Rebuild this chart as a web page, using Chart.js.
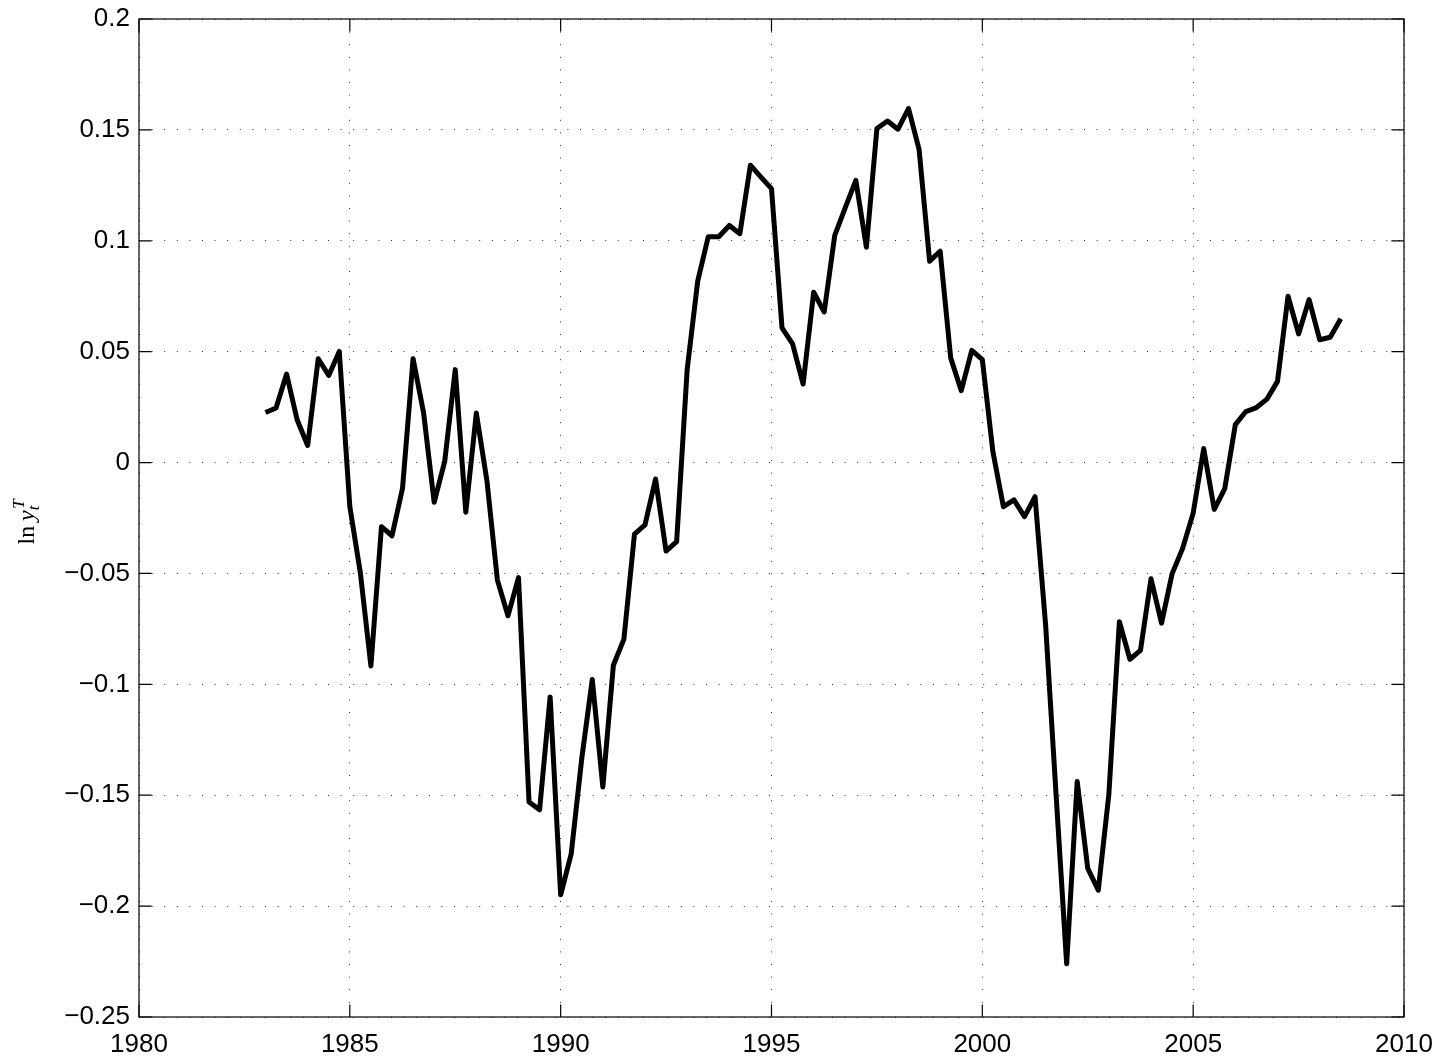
<!DOCTYPE html>
<html>
<head>
<meta charset="utf-8">
<script src="https://cdn.jsdelivr.net/npm/chart.js@4.4.1/dist/chart.umd.min.js"></script>
<style>
html,body{margin:0;padding:0;background:#fff;}
#wrap{width:1440px;height:1058px;}
</style>
</head>
<body>
<div id="wrap"><canvas id="c" width="1440" height="1058"></canvas></div>
<script>
// ---- data ----
const dates = [
1983.00,1983.25,1983.50,1983.75,1984.00,1984.25,1984.50,1984.75,
1985.00,1985.25,1985.50,1985.75,1986.00,1986.25,1986.50,1986.75,
1987.00,1987.25,1987.50,1987.75,1988.00,1988.25,1988.50,1988.75,
1989.00,1989.25,1989.50,1989.75,1990.00,1990.25,1990.50,1990.75,
1991.00,1991.25,1991.50,1991.75,1992.00,1992.25,1992.50,1992.75,
1993.00,1993.25,1993.50,1993.75,1994.00,1994.25,1994.50,1994.75,
1995.00,1995.25,1995.50,1995.75,1996.00,1996.25,1996.50,1996.75,
1997.00,1997.25,1997.50,1997.75,1998.00,1998.25,1998.50,1998.75,
1999.00,1999.25,1999.50,1999.75,2000.00,2000.25,2000.50,2000.75,
2001.00,2001.25,2001.50,2001.75,2002.00,2002.25,2002.50,2002.75,
2003.00,2003.25,2003.50,2003.75,2004.00,2004.25,2004.50,2004.75,
2005.00,2005.25,2005.50,2005.75,2006.00,2006.25,2006.50,2006.75,
2007.00,2007.25,2007.50,2007.75,2008.00,2008.25,2008.50
];
const lnYT = [
0.0226,0.0246,0.0399,0.0193,0.0077,0.0468,0.0393,0.0501,
-0.0199,-0.0498,-0.0917,-0.0289,-0.0330,-0.0116,0.0468,0.0223,
-0.0179,0.0005,0.0419,-0.0224,0.0223,-0.0080,-0.0530,-0.0691,
-0.0519,-0.1531,-0.1566,-0.1057,-0.1949,-0.1764,-0.1335,-0.0978,
-0.1463,-0.0914,-0.0796,-0.0323,-0.0281,-0.0074,-0.0399,-0.0357,
0.0419,0.0818,0.1018,0.1018,0.1069,0.1032,0.1341,0.1287,
0.1235,0.0607,0.0535,0.0354,0.0768,0.0679,0.1024,0.1149,
0.1272,0.0971,0.1506,0.1540,0.1503,0.1596,0.1412,0.0908,
0.0953,0.0472,0.0324,0.0506,0.0464,0.0050,-0.0199,-0.0168,
-0.0244,-0.0154,-0.0730,-0.1500,-0.2260,-0.1438,-0.1830,-0.1928,
-0.1497,-0.0718,-0.0887,-0.0847,-0.0524,-0.0724,-0.0502,-0.0387,
-0.0228,0.0063,-0.0211,-0.0117,0.0171,0.0230,0.0248,0.0286,
0.0366,0.0750,0.0580,0.0735,0.0554,0.0565,0.0648
];
const xTicks = [1980,1985,1990,1995,2000,2005,2010];
const yTicks = [-0.25,-0.2,-0.15,-0.1,-0.05,0,0.05,0.1,0.15,0.2];

// ---- chart ----
const points = dates.map((d,i)=>({x:d, y:lnYT[i]}));
const FONT = {family:'"Liberation Sans", Arial, Helvetica, sans-serif', size:26};
const GRID = {color:'rgba(0,0,0,0.8)', lineWidth:1, drawTicks:false};
const BORDER = {display:false, dash:[1,11.6]};

function fmtY(v){
  const r = Math.round(v*100)/100;
  if (r === 0) return '0';
  return String(r).replace('-', '\u2212');
}

const boxPlugin = {
  id:'box',
  afterDraw(chart){
    const {ctx, chartArea:a, scales} = chart;
    const tl = 12.6;
    ctx.save();
    ctx.strokeStyle = '#000';
    ctx.lineWidth = 1.2;
    ctx.setLineDash([]);
    ctx.beginPath();
    xTicks.forEach(v=>{
      const px = scales.x.getPixelForValue(v);
      ctx.moveTo(px, a.bottom); ctx.lineTo(px, a.bottom - tl);
      ctx.moveTo(px, a.top); ctx.lineTo(px, a.top + tl);
    });
    yTicks.forEach(v=>{
      const py = scales.y.getPixelForValue(v);
      ctx.moveTo(a.left, py); ctx.lineTo(a.left + tl, py);
      ctx.moveTo(a.right, py); ctx.lineTo(a.right - tl, py);
    });
    ctx.stroke();
    ctx.strokeRect(a.left, a.top, a.right - a.left, a.bottom - a.top);
    // y axis title: ln y_t^T
    const cy = (a.top + a.bottom) / 2 + 7;
    ctx.translate(34, cy);
    ctx.rotate(-Math.PI/2);
    ctx.fillStyle = '#000';
    ctx.textBaseline = 'alphabetic';
    const serif = '"Liberation Serif", "DejaVu Serif", serif';
    const parts = [
      {t:'ln', f:'24px '+serif, dy:0},
      {t:'\u2009', f:'24px '+serif, dy:0},
      {t:'y', f:'italic 24px '+serif, dy:0},
      {t:'T', f:'italic 17px '+serif, dy:-10, stack:true},
      {t:'t', f:'italic 17px '+serif, dy:5}
    ];
    let total = 0;
    const widths = parts.map(p=>{ ctx.font = p.f; return ctx.measureText(p.t).width; });
    parts.forEach((p,i)=>{ if(!p.stack) total += widths[i]; });
    let x = -total/2;
    parts.forEach((p,i)=>{
      ctx.font = p.f;
      ctx.fillText(p.t, x + (p.stack?1.5:0), p.dy);
      if(!p.stack) x += widths[i];
    });
    ctx.restore();
  }
};

new Chart(document.getElementById('c'), {
  type:'line',
  data:{datasets:[{
    data:points,
    borderColor:'#000',
    borderWidth:5,
    pointRadius:0,
    fill:false,
    tension:0,
    borderJoinStyle:'round',
    borderCapStyle:'butt'
  }]},
  options:{
    responsive:false,
    animation:false,
    devicePixelRatio:1,
    plugins:{legend:{display:false}, tooltip:{enabled:false}},
    layout:{padding:{top:19, right:36, left:0, bottom:0}},
    scales:{
      x:{
        type:'linear', min:1980, max:2010,
        afterBuildTicks(s){ s.ticks = xTicks.map(v=>({value:v})); },
        afterFit(s){ s.height = 41; s.paddingLeft = 0; s.paddingRight = 0; },
        border:BORDER,
        grid:GRID,
        ticks:{color:'#000', font:FONT, padding:12, autoSkip:false, maxRotation:0,
               callback:v=>String(v)}
      },
      y:{
        type:'linear', min:-0.25, max:0.2,
        afterBuildTicks(s){ s.ticks = yTicks.map(v=>({value:v})); },
        afterFit(s){ s.width = 139; s.paddingTop = 0; s.paddingBottom = 0; },
        border:BORDER,
        grid:GRID,
        ticks:{color:'#000', font:FONT, padding:9, autoSkip:false, callback:v=>fmtY(v)}
      }
    }
  },
  plugins:[boxPlugin]
});
</script>
</body>
</html>
